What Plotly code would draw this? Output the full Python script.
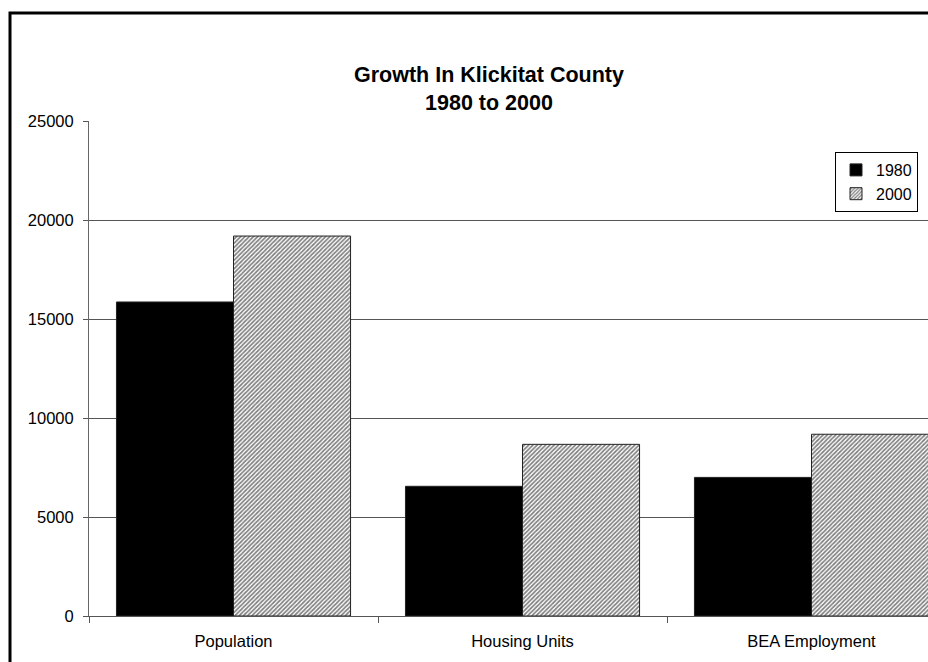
import plotly.graph_objects as go

categories = ["Population", "Housing Units", "BEA Employment"]
series_names = ["1980", "2000"]
values_1980 = [15860, 6550, 7000]
values_2000 = [19190, 8670, 9180]
y_ticks = [0, 5000, 10000, 15000, 20000, 25000]
y_tick_labels = ["0", "5000", "10000", "15000", "20000", "25000"]
title_lines = ["Growth In Klickitat County", "1980 to 2000"]

W, H = 928, 662
L, R, T, B = 89, 0, 121, 46
pw, ph = W - L - R, H - T - B

def px_x(x):
    return (x - L) / pw

def px_y(y):
    return (H - B - y) / ph

FONT = "Liberation Sans, Arial, sans-serif"

fig = go.Figure()
fig.add_trace(go.Bar(
    x=categories, y=values_1980, name=series_names[0],
    marker=dict(color="black", line=dict(color="#222", width=1)),
))
fig.add_trace(go.Bar(
    x=categories, y=values_2000, name=series_names[1],
    marker=dict(color="white", line=dict(color="#222", width=1),
                pattern=dict(shape="/", fgcolor="black", bgcolor="white",
                             size=3, solidity=0.55)),
))

cat_px = 289.0
x_hi = -0.5 + pw / cat_px

fig.update_layout(
    width=W, height=H,
    margin=dict(l=L, r=R, t=T, b=B, pad=0),
    paper_bgcolor="white", plot_bgcolor="white",
    barmode="group", bargap=0.19, bargroupgap=0,
    font=dict(family=FONT, size=16, color="black"),
    xaxis=dict(range=[-0.5, x_hi], showline=True, linecolor="#555", linewidth=1,
               ticks="outside", ticklen=6, tickcolor="#555", tickson="boundaries",
               showgrid=False, tickfont=dict(size=16.5), fixedrange=True,
               ticklabelstandoff=10),
    yaxis=dict(range=[0, 25000], tickvals=y_ticks, ticktext=y_tick_labels,
               showline=True, linecolor="#666",
               linewidth=1, ticks="outside", ticklen=5, tickcolor="#555",
               showgrid=True, gridcolor="#555", gridwidth=1, zeroline=False,
               tickfont=dict(size=16.5), ticklabelstandoff=6),
    legend=dict(x=px_x(918), xanchor="right", y=px_y(152), yanchor="top",
                bgcolor="white", bordercolor="black", borderwidth=1,
                font=dict(size=16), itemwidth=30, tracegroupgap=0),
    showlegend=True,
)

fig.add_annotation(text="<b>%s</b>" % "<br>".join(title_lines),
                   xref="paper", yref="paper",
                   x=px_x(489), y=px_y(89), xanchor="center", yanchor="middle",
                   showarrow=False, align="center",
                   font=dict(family=FONT, size=21.5, color="black"))

fig.add_shape(type="rect", xref="paper", yref="paper",
              x0=px_x(10), x1=px_x(W + 20), y0=px_y(H + 20), y1=px_y(13),
              line=dict(color="black", width=3), fillcolor="rgba(0,0,0,0)",
              layer="above")

fig.write_html("out.html")
